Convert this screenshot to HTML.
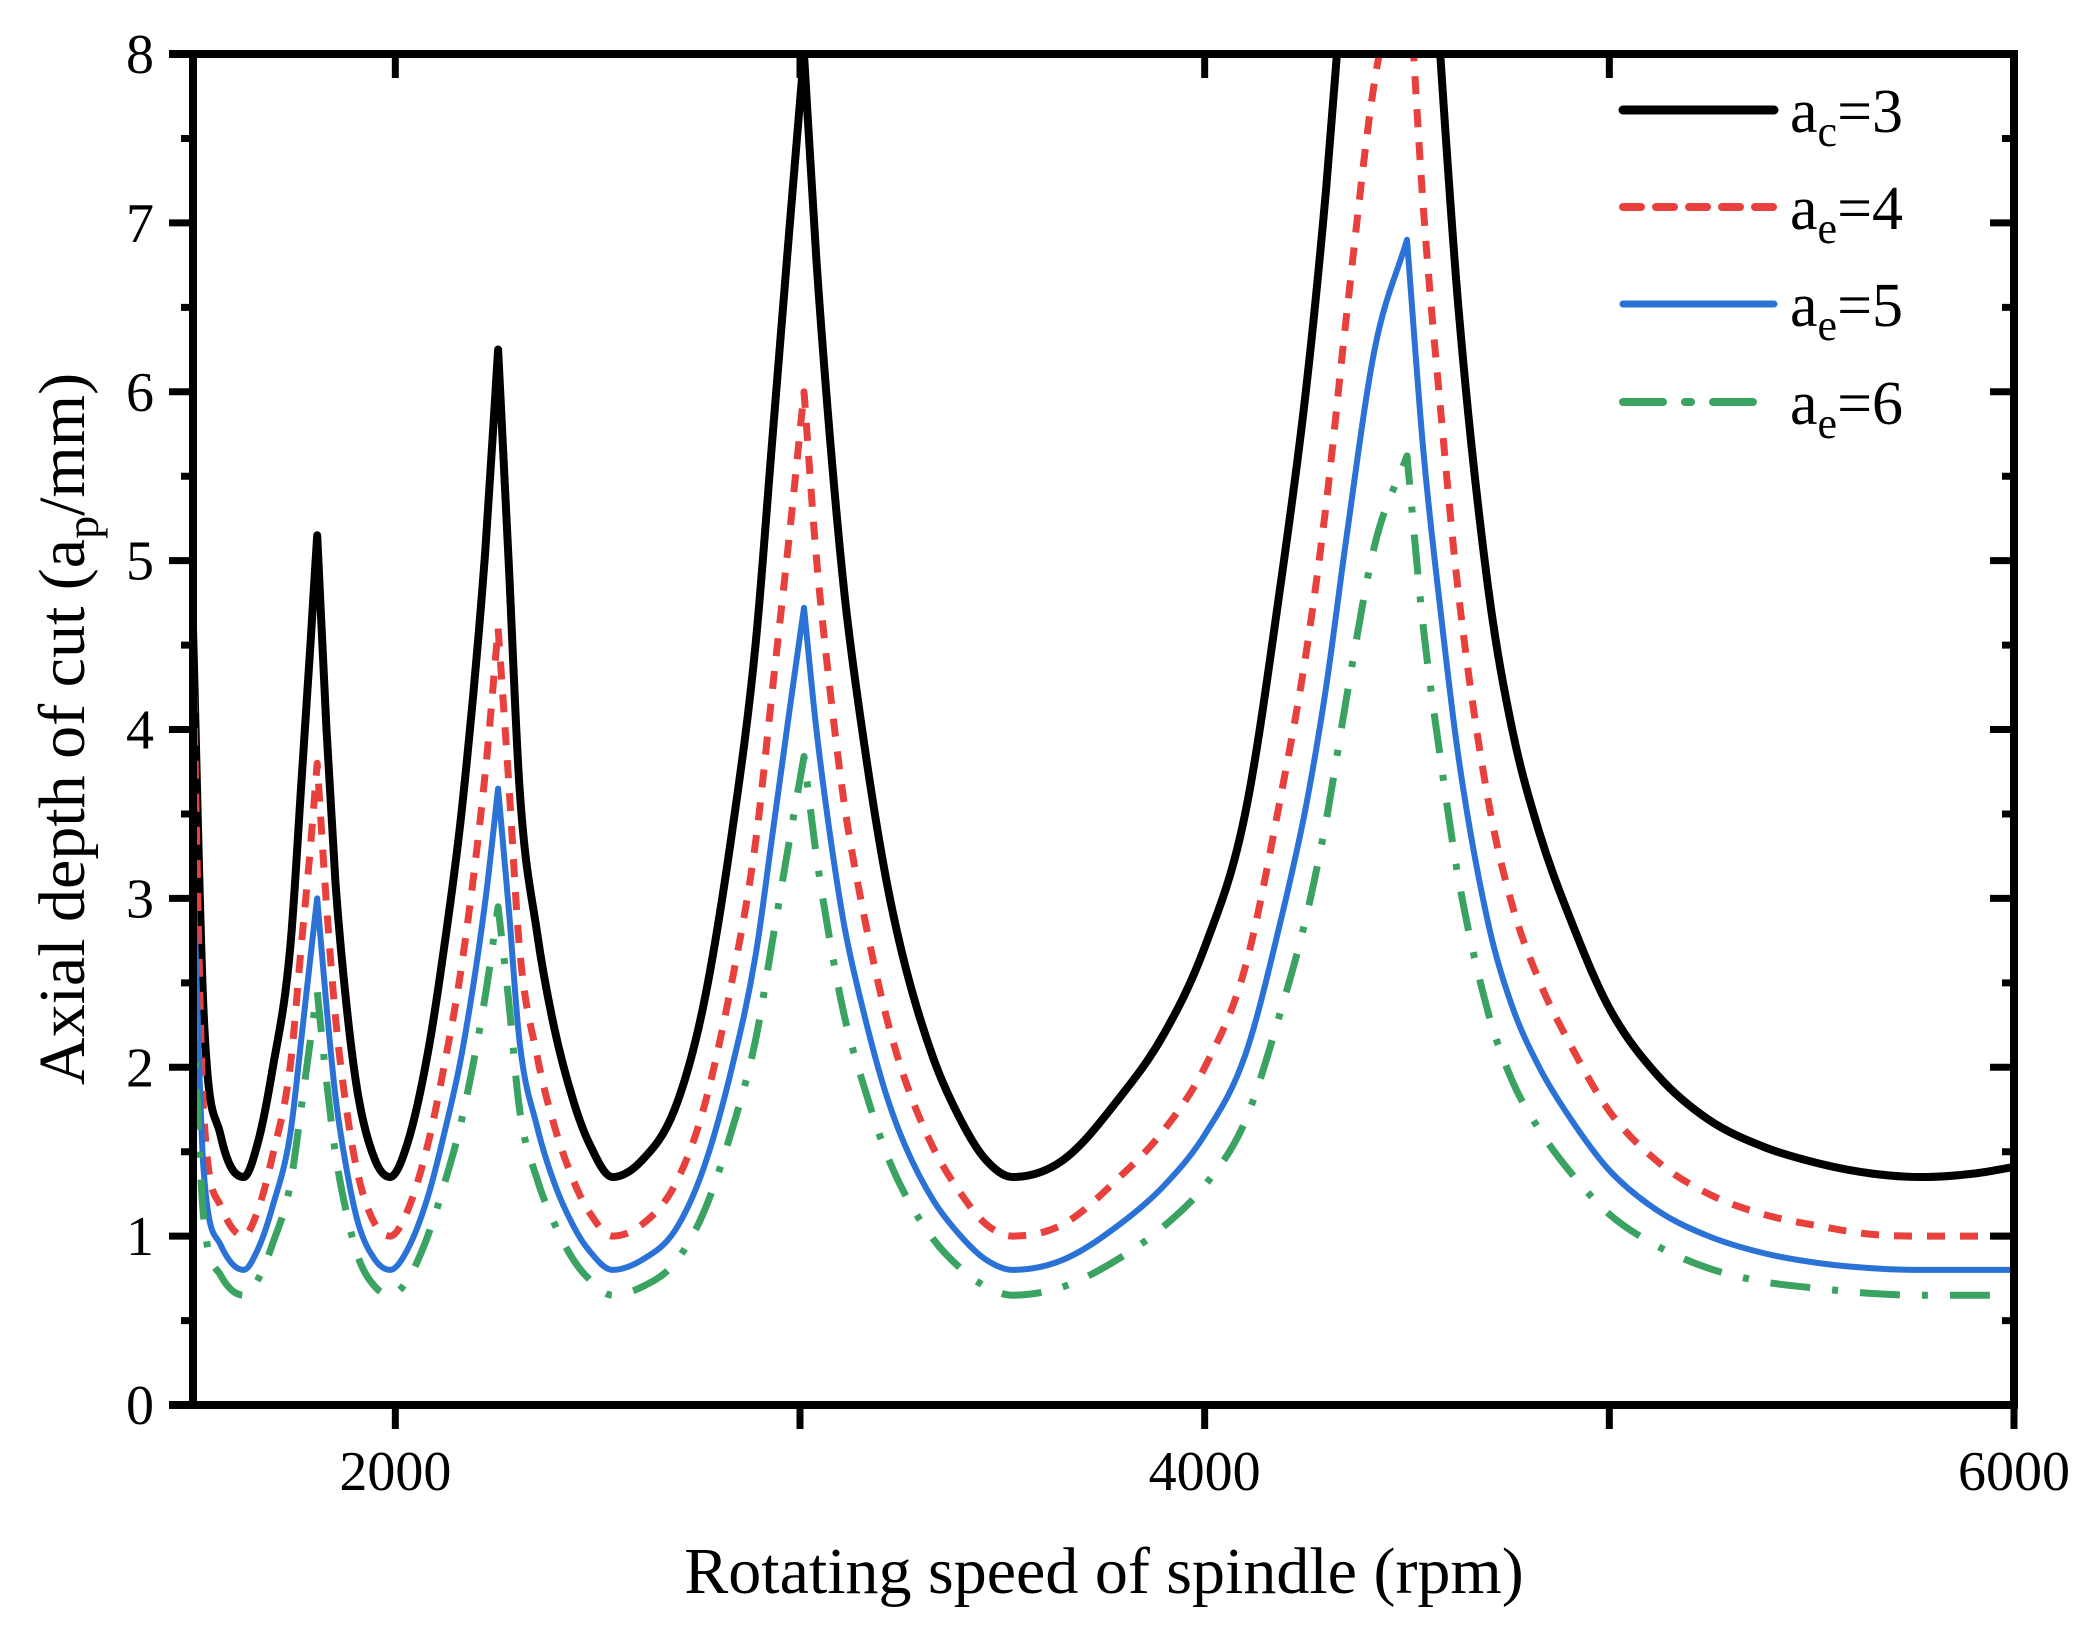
<!DOCTYPE html>
<html><head><meta charset="utf-8"><style>
html,body{margin:0;padding:0;background:#fff;}
svg{display:block;font-family:"Liberation Serif",serif;}
</style></head><body>
<svg id="chart" width="2086" height="1640" viewBox="0 0 2086 1640">
<defs><clipPath id="plotclip"><rect x="193" y="54" width="1821" height="1351"/></clipPath></defs>
<g id="series" clip-path="url(#plotclip)"></g>
<g id="axes"></g>
<g id="legend"></g>
<text x="1104" y="1593" font-size="66" text-anchor="middle">Rotating speed of spindle (rpm)</text>
<text transform="translate(84,729) rotate(-90)" font-size="66" text-anchor="middle">Axial depth of cut (a<tspan font-size="46" dy="14">p</tspan><tspan dy="-14">/mm)</tspan></text>
</svg>
<script>
const rpm = [1500,1526,1568,1625,1660,1696,1740,1767,1790,1807,1830,1852,1880,1909,1950,1987,2030,2080,2120,2165,2222,2254,2280,2307,2350,2392,2440,2477,2537,2610,2690,2760,2832,2890,2932,2975,3010,3040,3074,3110,3159,3210,3259,3330,3401,3460,3525,3650,3790,3900,4000,4100,4190,4250,4300,4350,4420,4500,4540,4582,4627,4700,4760,4827,4900,5000,5120,5245,5380,5518,5650,5773,5900,6000];
const ae3 = [4.6,2.34,1.6,1.35,1.55,1.98,2.7,3.65,4.5,5.15,4.0,3.1,2.35,1.82,1.45,1.35,1.55,2.08,2.7,3.54,5.05,6.25,5.0,3.65,2.8,2.24,1.8,1.56,1.35,1.45,1.75,2.35,3.39,4.5,5.73,7.0,8.0,6.8,5.73,4.8,3.91,3.15,2.61,2.05,1.67,1.45,1.35,1.45,1.82,2.2,2.71,3.5,4.9,6.0,7.2,8.7,10.6,11.7,9.6,8.0,6.5,4.85,4.0,3.39,2.9,2.35,1.95,1.69,1.53,1.43,1.37,1.35,1.37,1.41];
const ae4 = [4.4,1.75,1.18,1.0,1.15,1.47,2.0,2.7,3.3,3.8,2.96,2.3,1.74,1.35,1.07,1.0,1.15,1.54,2.0,2.62,3.74,4.6,3.7,2.7,2.07,1.66,1.33,1.15,1.0,1.07,1.3,1.74,2.51,3.33,4.24,5.18,6.0,5.03,4.24,3.55,2.89,2.33,1.93,1.52,1.24,1.07,1.0,1.07,1.35,1.63,2.0,2.59,3.63,4.44,5.33,6.44,7.84,8.66,7.1,5.92,4.81,3.59,2.96,2.51,2.15,1.74,1.44,1.25,1.13,1.06,1.01,1.0,1.0,1.0];
const ae5 = [3.2,1.4,0.95,0.8,0.92,1.17,1.6,2.15,2.65,3.0,2.36,1.83,1.39,1.07,0.86,0.8,0.92,1.23,1.6,2.09,2.98,3.65,2.95,2.15,1.65,1.32,1.06,0.92,0.8,0.86,1.03,1.39,2.0,2.66,3.38,4.13,4.72,4.01,3.38,2.83,2.31,1.86,1.54,1.21,0.99,0.86,0.8,0.86,1.07,1.3,1.6,2.07,2.89,3.54,4.25,5.13,6.25,6.9,5.66,4.72,3.84,2.86,2.36,2.0,1.71,1.39,1.15,1.0,0.9,0.84,0.81,0.8,0.8,0.8];
const ae6 = [2.4,1.12,0.77,0.65,0.74,0.95,1.3,1.75,2.16,2.45,1.92,1.49,1.13,0.87,0.7,0.65,0.74,1.0,1.3,1.7,2.42,2.95,2.4,1.75,1.34,1.08,0.86,0.75,0.65,0.7,0.84,1.13,1.63,2.16,2.75,3.36,3.84,3.26,2.75,2.3,1.88,1.51,1.25,0.98,0.8,0.7,0.65,0.7,0.87,1.06,1.3,1.68,2.35,2.88,3.46,4.18,5.09,5.62,4.61,3.84,3.12,2.33,1.92,1.63,1.39,1.13,0.94,0.81,0.73,0.69,0.66,0.65,0.65,0.65];
const seriesLabels = ["3","4","5","6"];
const seriesSub = ["c","e","e","e"];
const xTickValues = [2000,3000,4000,5000,6000];
const xTickLabels = ["2000","","4000","","6000"];
const yTickValues = [0,1,2,3,4,5,6,7,8];
const yTickLabels = ["0","1","2","3","4","5","6","7","8"];

const NS="http://www.w3.org/2000/svg";
const X0=193, X1=2014, Y0=1405, Y1=54;
const xMin=1500, xMax=6000, yMin=0, yMax=8;
function sx(v){return X0+(v-xMin)/(xMax-xMin)*(X1-X0);}
function sy(v){return Y0-(v-yMin)/(yMax-yMin)*(Y0-Y1);}
function mk(tag,attrs,parent){const e=document.createElementNS(NS,tag);for(const k in attrs)e.setAttribute(k,attrs[k]);parent.appendChild(e);return e;}

function monoPath(xs,ys){
  const n=xs.length, d=[], m=[];
  for(let i=0;i<n-1;i++) d.push((ys[i+1]-ys[i])/(xs[i+1]-xs[i]));
  m[0]=d[0]; m[n-1]=d[n-2];
  for(let i=1;i<n-1;i++){ m[i]=(d[i-1]*d[i]<=0)?0:(d[i-1]+d[i])/2; }
  for(let i=0;i<n-1;i++){
    if(d[i]===0){m[i]=0;m[i+1]=0;continue;}
    const a=m[i]/d[i], b=m[i+1]/d[i], s=a*a+b*b;
    if(s>9){const t=3/Math.sqrt(s); m[i]=t*a*d[i]; m[i+1]=t*b*d[i];}
  }
  for(let i=1;i<n-1;i++){ if(ys[i]<ys[i-1]&&ys[i]<ys[i+1]) m[i]=NaN; }
  let p="M"+xs[0].toFixed(1)+","+ys[0].toFixed(1);
  for(let i=0;i<n-1;i++){
    const h=xs[i+1]-xs[i];
    const m0=isNaN(m[i])?d[i]:m[i], m1=isNaN(m[i+1])?d[i]:m[i+1];
    const c1x=xs[i]+h/3, c1y=ys[i]+m0*h/3, c2x=xs[i+1]-h/3, c2y=ys[i+1]-m1*h/3;
    p+="C"+c1x.toFixed(1)+","+c1y.toFixed(1)+" "+c2x.toFixed(1)+","+c2y.toFixed(1)+" "+xs[i+1].toFixed(1)+","+ys[i+1].toFixed(1);
  }
  return p;
}

const styles=[
 {color:"#000000",w:8,dash:"",name:"series-ae3"},
 {color:"#e8403c",w:7,dash:"18 15",name:"series-ae4"},
 {color:"#2b72d6",w:6,dash:"",name:"series-ae5"},
 {color:"#3aa362",w:7,dash:"40 22 6 22",name:"series-ae6"}
];
const allSeries=[ae3,ae4,ae5,ae6];
const sg=document.getElementById('series');
allSeries.forEach((vals,i)=>{
  const xs=rpm.map(sx), ys=vals.map(sy);
  const p=mk('path',{d:monoPath(xs,ys),fill:"none",stroke:styles[i].color,"stroke-width":styles[i].w,"stroke-linejoin":"round","stroke-linecap":"butt"},sg);
  if(styles[i].dash)p.setAttribute('stroke-dasharray',styles[i].dash);
  
  
});

const ax=document.getElementById('axes');
const frame=mk('path',{d:`M169,${Y0}H${X1}V${Y1}H169M${X0},${Y1-4}V${Y0+4}`,fill:"none",stroke:"#000","stroke-width":8},ax);


xTickValues.forEach((v,i)=>{
  const x=sx(v);
  const t=mk('path',{d:`M${x},${Y0}v24M${x},${Y1}v24`,stroke:"#000","stroke-width":7},ax);
  
  
  if(xTickLabels[i]){
    const l=mk('text',{x:x,y:1490,"font-size":56,"text-anchor":"middle"},ax);
    l.textContent=xTickLabels[i];
    
    
  }
});
yTickValues.forEach((v,i)=>{
  const y=sy(v);
  const t=mk('path',{d:`M${X0-24},${y}h24M${X1},${y}h-24`,stroke:"#000","stroke-width":7},ax);
  
  
  if(v<yMax){
    const ym=sy(v+0.5);
    const m=mk('path',{d:`M${X0-12},${ym}h12M${X1},${ym}h-12`,stroke:"#000","stroke-width":7},ax);
    
    
  }
  const l=mk('text',{x:154,y:y+19,"font-size":56,"text-anchor":"end"},ax);
  l.textContent=yTickLabels[i];
  
  
});

const lg=document.getElementById('legend');
const rowY=[110,207,304,402];
styles.forEach((s,i)=>{
  const g=mk('g',{},lg);
  
  
  const ln=mk('line',{x1:1623,x2:1774,y1:rowY[i],y2:rowY[i],stroke:s.color,"stroke-width":s.w+1,"stroke-linecap":"round"},g);
  if(s.dash)ln.setAttribute('stroke-dasharray',s.dash);
  
  
  const t=mk('text',{x:1790,y:rowY[i]+22,"font-size":62},g);
  
  
  t.appendChild(document.createTextNode('a'));
  const sub=mk('tspan',{"font-size":44,dy:14},t);
  sub.textContent=seriesSub[i];
  const rest=mk('tspan',{dy:-14},t);
  rest.textContent='='+seriesLabels[i];
});
</script>
</body></html>
